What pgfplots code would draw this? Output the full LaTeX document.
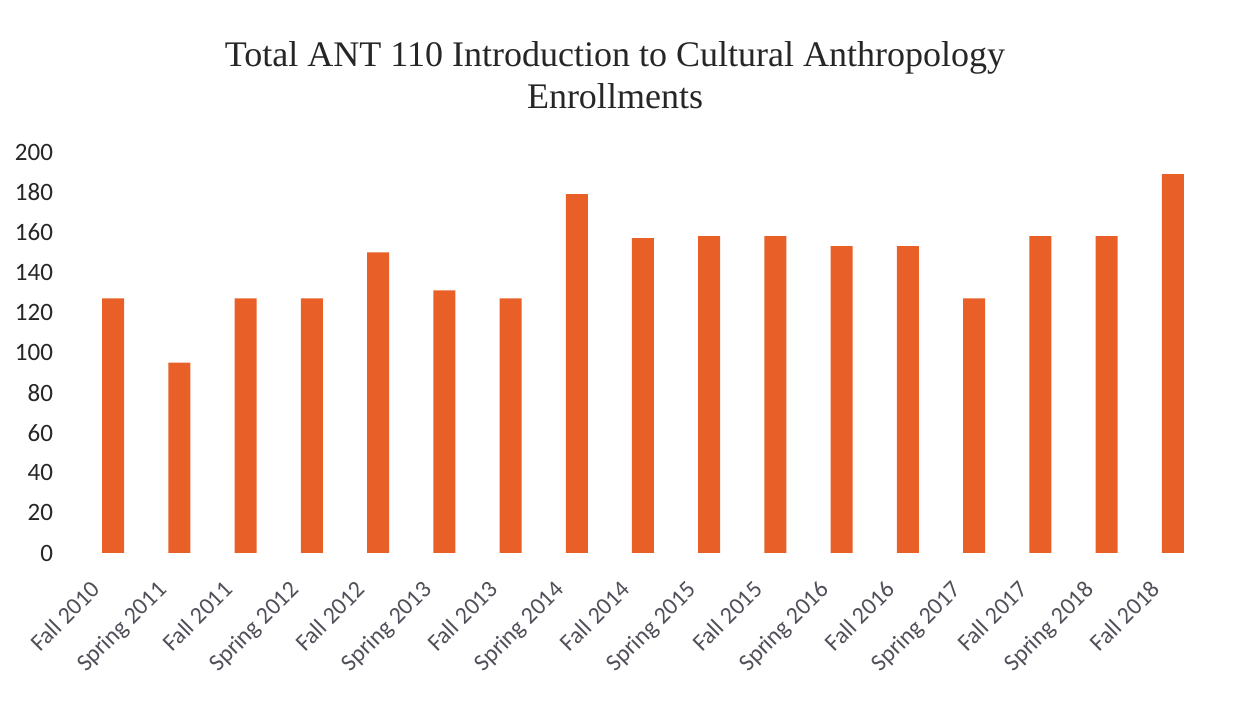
\documentclass[border=0pt]{standalone}
\usepackage{pgfplots}
\pgfplotsset{compat=1.18}
\usepackage{fontspec}
\setmainfont{Carlito}
\newfontfamily\titlefont{Liberation Serif}
\definecolor{barorange}{RGB}{232,96,40}
\definecolor{lblgray}{RGB}{80,80,90}
\begin{document}
\begin{tikzpicture}
\path[use as bounding box] (0,0) rectangle (619.5pt,356.5pt);
\node[align=center, font=\titlefont\fontsize{18}{21}\selectfont, text=black!85] at (307.5pt,319pt)
  {Total ANT 110 Introduction to Cultural Anthropology\\Enrollments};
\begin{axis}[
  at={(40pt,80pt)}, anchor=south west,
  scale only axis, width=563pt, height=200.5pt,
  xmin=-0.5, xmax=16.5, ymin=0, ymax=200,
  axis line style={draw=none},
  major tick style={draw=none},
  ytick={0,20,...,200},
  xtick=data,
  xticklabels={Fall 2010,Spring 2011,Fall 2011,Spring 2012,Fall 2012,Spring 2013,Fall 2013,Spring 2014,Fall 2014,Spring 2015,Fall 2015,Spring 2016,Fall 2016,Spring 2017,Fall 2017,Spring 2018,Fall 2018},
  yticklabel style={font=\fontsize{12.5}{14}\selectfont, text=black!85, xshift=-10pt},
  xticklabel style={font=\fontsize{12}{14}\selectfont, text=lblgray, rotate=45, anchor=north east, xshift=-11pt, yshift=5.5pt},
  /pgf/number format/assume math mode=true,
  ybar, bar width=11pt,
]
\addplot[fill=barorange, draw=none] coordinates {
(0,127) (1,95) (2,127) (3,127) (4,150) (5,131) (6,127) (7,179) (8,157) (9,158) (10,158) (11,153) (12,153) (13,127) (14,158) (15,158) (16,189)
};
\end{axis}
\end{tikzpicture}
\end{document}
